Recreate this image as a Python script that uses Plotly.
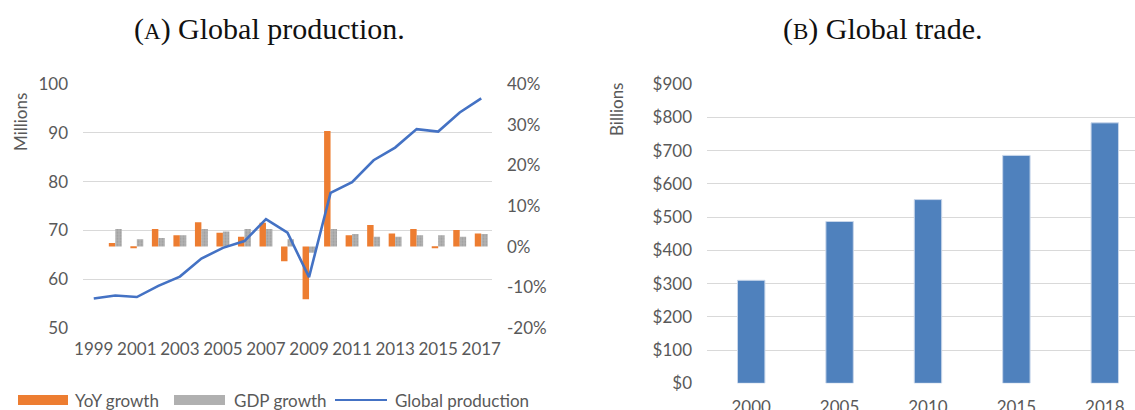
import plotly.graph_objects as go

# ---- data -------------------------------------------------------------
years = ["1999", "2000", "2001", "2002", "2003", "2004", "2005", "2006", "2007", "2008",
         "2009", "2010", "2011", "2012", "2013", "2014", "2015", "2016", "2017"]
year_ticks = ["1999", "2001", "2003", "2005", "2007", "2009", "2011", "2013", "2015", "2017"]

# global production, millions
production = [56.0, 56.6, 56.3, 58.6, 60.5, 64.2, 66.4, 67.8, 72.3, 69.5,
              60.4, 77.7, 79.9, 84.4, 87.0, 90.8, 90.3, 94.2, 97.1]
# year-over-year growth of production (fraction)
yoy_growth = [None, 0.009, -0.004, 0.043, 0.028, 0.060, 0.034, 0.024, 0.059, -0.036,
              -0.130, 0.285, 0.028, 0.053, 0.032, 0.043, -0.002, 0.041, 0.032]
# GDP growth (fraction)
gdp_growth = [None, 0.043, 0.018, 0.021, 0.028, 0.043, 0.037, 0.043, 0.043, 0.018,
              -0.015, 0.043, 0.031, 0.024, 0.024, 0.028, 0.028, 0.024, 0.031]

pct_vals = [-0.2, -0.1, 0.0, 0.1, 0.2, 0.3, 0.4]
pct_text = ["-20%", "-10%", "0%", "10%", "20%", "30%", "40%"]

trade_years = ["2000", "2005", "2010", "2015", "2018"]
trade_value = [310, 487, 553, 686, 784]  # billions of dollars

# ---- styling ----------------------------------------------------------
W, H = 1135, 410
FONT = "Lato, 'Open Sans', sans-serif"
SERIF = "'Liberation Serif', 'DejaVu Serif', serif"
TXT = "#595959"
GRID = "#d9d9d9"
ORANGE = "#ED7D31"
GREY = "#A5A5A5"
BLUE_LINE = "#4472C4"
BLUE_BAR = "#4F81BD"


def px(x):
    return x / W


def py(y):
    return 1 - y / H


tick_font = dict(family=FONT, size=17, color=TXT)

fig = go.Figure()

# (A) growth bars on the percent axis
fig.add_trace(go.Bar(x=years, y=yoy_growth, name="YoY growth",
                     marker=dict(color=ORANGE, line=dict(width=0)),
                     xaxis="x", yaxis="y", showlegend=False))
fig.add_trace(go.Bar(x=years, y=gdp_growth, name="GDP growth",
                     marker=dict(color=GREY, line=dict(width=0),
                                 pattern=dict(shape=".", size=3, solidity=0.35,
                                              fgcolor="#8a8a8a", bgcolor="#b2b2b2")),
                     xaxis="x", yaxis="y", showlegend=False))
# (A) production line on the millions axis
fig.add_trace(go.Scatter(x=years, y=production, name="Global production", mode="lines",
                         line=dict(color=BLUE_LINE, width=2.6),
                         xaxis="x", yaxis="y3", showlegend=False))

# (B) trade bars
fig.add_trace(go.Bar(x=trade_years, y=trade_value, name="Global trade",
                     marker=dict(color=BLUE_BAR, line=dict(color="#c8d6ea", width=1)),
                     width=0.31, xaxis="x2", yaxis="y2", showlegend=False))

left_dom = [py(327.7), py(84.3)]
right_dom = [py(383.3), py(84.3)]

common = dict(zeroline=False, showline=False, ticks="", automargin=False,
              tickfont=tick_font)

fig.update_layout(
    width=W, height=H,
    margin=dict(l=0, r=0, t=0, b=0, autoexpand=False),
    paper_bgcolor="white", plot_bgcolor="white",
    barmode="group", bargap=0.4, bargroupgap=0.0,
    xaxis=dict(domain=[px(83), px(492)], type="category", anchor="y",
               tickmode="array", tickvals=year_ticks, ticktext=year_ticks,
               showgrid=False, ticklabelstandoff=9, **common),
    yaxis=dict(domain=left_dom, anchor="x", side="right", range=[-0.2, 0.4],
               tickmode="array", tickvals=pct_vals, ticktext=pct_text,
               showgrid=False, ticklabelstandoff=14, **common),
    yaxis3=dict(overlaying="y", anchor="x", side="left", range=[50, 100], dtick=10,
                showgrid=True, gridcolor=GRID, gridwidth=1.2,
                ticklabelstandoff=14, **common),
    xaxis2=dict(domain=[px(707), 1.0], type="category", anchor="y2",
                range=[-0.5, 4.342], showgrid=False,
                ticklabelstandoff=12, **common),
    yaxis2=dict(domain=right_dom, anchor="x2", range=[0, 900], dtick=100,
                tickprefix="$", showgrid=True, gridcolor=GRID, gridwidth=1.2,
                ticklabelstandoff=14, **common),
)

annotations = [
    dict(text="(<span style='font-size:23px'>A</span>) Global production.",
         x=px(269), y=py(29), font=dict(family=SERIF, size=30, color="#111")),
    dict(text="(<span style='font-size:23px'>B</span>) Global trade.",
         x=px(882), y=py(29), font=dict(family=SERIF, size=30, color="#111")),
    dict(text="Millions", x=px(20), y=py(122), textangle=-90,
         font=dict(family=FONT, size=17, color=TXT)),
    dict(text="Billions", x=px(616), y=py(110), textangle=-90,
         font=dict(family=FONT, size=17, color=TXT)),
    dict(text="YoY growth", x=px(73), y=py(400), xanchor="left",
         font=dict(family=FONT, size=17, color=TXT)),
    dict(text="GDP growth", x=px(232), y=py(400), xanchor="left",
         font=dict(family=FONT, size=17, color=TXT)),
    dict(text="Global production", x=px(393), y=py(400), xanchor="left",
         font=dict(family=FONT, size=17, color=TXT)),
]
for a in annotations:
    a.update(xref="paper", yref="paper", showarrow=False)
    a.setdefault("xanchor", "center")
    a.setdefault("yanchor", "middle")
fig.update_layout(annotations=annotations)

# legend swatches
shapes = [
    dict(type="rect", x0=px(18), x1=px(68), y0=py(405), y1=py(395),
         fillcolor=ORANGE, line=dict(width=0)),
    dict(type="rect", x0=px(174), x1=px(225), y0=py(405), y1=py(395),
         fillcolor="#b0b0b0", line=dict(width=0)),
    dict(type="line", x0=px(335), x1=px(387), y0=py(400), y1=py(400),
         line=dict(color=BLUE_LINE, width=2)),
]
for s in shapes:
    s.update(xref="paper", yref="paper")
fig.update_layout(shapes=shapes)

fig.write_html("out.html")
